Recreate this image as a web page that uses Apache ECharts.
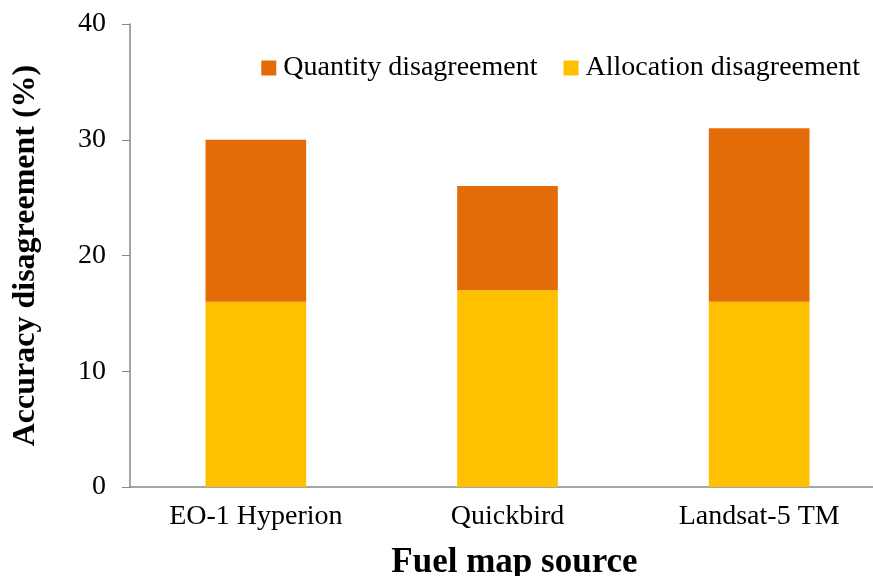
<!DOCTYPE html>
<html>
<head>
<meta charset="utf-8">
<script src="https://cdn.jsdelivr.net/npm/echarts@6/dist/echarts.min.js"></script>
<style>
  html, body { margin: 0; padding: 0; background: #fff; }
  #chart { width: 873px; height: 576px; }
</style>
</head>
<body>
<div id="chart"></div>
<script>
// 数据
var categories = ['EO-1 Hyperion', 'Quickbird', 'Landsat-5 TM'];
var allocation = [16, 17, 16];
var quantity = [14, 9, 15];
var yTicks = [0, 10, 20, 30, 40];

var chart = echarts.init(document.getElementById('chart'));
var serif = '"Liberation Serif", "Times New Roman", serif';

var option = {
    animation: false,
    textStyle: { fontFamily: serif, color: '#000' },
    // 网格往右伸出画布一点，和原图一致
    grid: { left: 130, top: 24, right: -12, bottom: 89, outerBoundsMode: 'none' },
    legend: {
        data: ['Quantity disagreement', 'Allocation disagreement'],
        right: 8,
        top: 49,
        itemWidth: 15,
        itemHeight: 15,
        itemGap: 26,
        icon: 'rect',
        textStyle: { fontFamily: serif, fontSize: 28, color: '#000', padding: [0, 0, 0, 2] }
    },
    xAxis: {
        type: 'category',
        data: categories,
        name: 'Fuel map source',
        nameLocation: 'middle',
        nameGap: 58,
        nameTextStyle: { fontFamily: serif, fontSize: 35, fontWeight: 'bold', color: '#000', padding: [0, 0, 0, 14] },
        axisLine: { lineStyle: { color: '#898989', width: 1.5 } },
        axisTick: { length: 7, lineStyle: { color: '#898989' } },
        axisLabel: { fontFamily: serif, fontSize: 28, color: '#000', margin: 16 }
    },
    yAxis: {
        type: 'value',
        min: yTicks[0],
        max: yTicks[yTicks.length - 1],
        interval: 10,
        name: 'Accuracy disagreement (%)',
        nameLocation: 'middle',
        nameGap: 88,
        nameRotate: 90,
        nameTextStyle: { fontFamily: serif, fontSize: 32, fontWeight: 'bold', color: '#000' },
        axisLine: { show: true, lineStyle: { color: '#898989', width: 1.5 } },
        axisTick: { show: true, length: 8, lineStyle: { color: '#898989' } },
        splitLine: { show: false },
        axisLabel: { fontFamily: serif, fontSize: 28, color: '#000', margin: 24 }
    },
    series: [
        {
            name: 'Allocation disagreement',
            type: 'bar',
            stack: 'total',
            barWidth: '40%',
            data: allocation,
            itemStyle: { color: '#FFC000' }
        },
        {
            name: 'Quantity disagreement',
            type: 'bar',
            stack: 'total',
            barWidth: '40%',
            data: quantity,
            itemStyle: { color: '#E36C09' }
        }
    ]
};

chart.setOption(option);
</script>
</body>
</html>
